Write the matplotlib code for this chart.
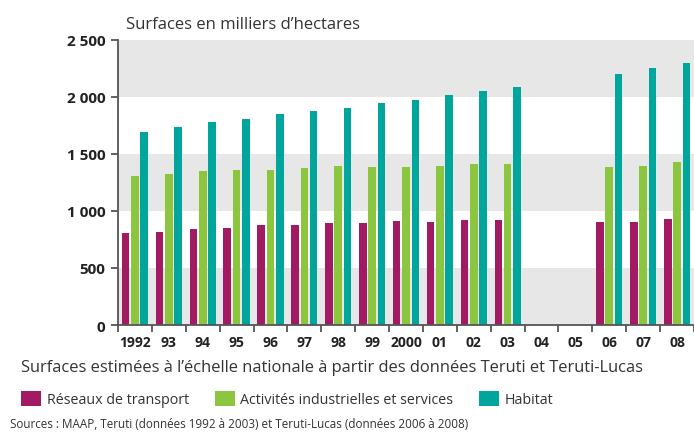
import numpy as np
import matplotlib.pyplot as plt
from matplotlib.patches import Patch

plt.rcParams['font.family'] = ['Open Sans', 'DejaVu Sans']

years = ['1992', '93', '94', '95', '96', '97', '98', '99', '2000', '01',
         '02', '03', '04', '05', '06', '07', '08']
transport = [809, 818, 845, 847, 874, 874, 898, 891, 912, 900, 924, 918,
             np.nan, np.nan, 906, 906, 927]
activites = [1311, 1325, 1349, 1358, 1361, 1376, 1393, 1387, 1387, 1393,
             1414, 1411, np.nan, np.nan, 1384, 1396, 1428]
habitat = [1693, 1734, 1781, 1808, 1852, 1876, 1902, 1949, 1975, 2017,
           2057, 2090, np.nan, np.nan, 2198, 2257, 2299]
series_names = ['Réseaux de transport', 'Activités industrielles et services', 'Habitat']
colors = ['#a21a62', '#8cc63e', '#00a69c']
yticks = [0, 500, 1000, 1500, 2000, 2500]
ytick_labels = ['0', '500', '1 000', '1 500', '2 000', '2 500']

fig = plt.figure(figsize=(6.94, 4.35), dpi=100)
ax = fig.add_axes([118 / 694, 1 - 326 / 435, 1 - 118 / 694, (326 - 41) / 435])

x = np.arange(len(years))
ax.set_xlim(-0.5, len(years) - 0.5)
ax.set_ylim(0, 2500)

# grey bands
for lo in [0, 1000, 2000]:
    ax.axhspan(lo, lo + 500, color='#e7e7e8', lw=0, zorder=0)

w = 0.225
step = 0.275
for i, (vals, c) in enumerate(zip([transport, activites, habitat], colors)):
    ax.bar(x + (i - 1) * step, vals, width=w, color=c, zorder=2)

for s in ['top', 'right']:
    ax.spines[s].set_visible(False)
for s in ['left', 'bottom']:
    ax.spines[s].set_color('#555555')
    ax.spines[s].set_linewidth(1.3)

ax.set_yticks(yticks)
ax.set_yticklabels(ytick_labels, fontsize=11, fontweight='bold', color='#222222')
ax.tick_params(axis='y', length=5, width=1.3, color='#555555', pad=4)

ax.set_xticks(x)
ax.set_xticklabels(years, fontsize=10, fontweight='bold', color='#222222')
ax.set_xticks(np.arange(len(years) + 1) - 0.5, minor=True)
ax.tick_params(axis='x', which='major', length=0, pad=7)
ax.tick_params(axis='x', which='minor', length=5, width=1.3, color='#555555')

fig.text(126 / 694, 1 - 25 / 435, 'Surfaces en milliers d\u2019hectares',
         fontsize=12, color='#333333', va='center', ha='left')
fig.text(21 / 694, 1 - 368 / 435,
         'Surfaces estimées à l\u2019échelle nationale à partir des données Teruti et Teruti-Lucas',
         fontsize=11.9, color='#333333', va='center', ha='left')

handles = [Patch(facecolor=c, edgecolor='none') for c in colors]
fig.legend(handles, series_names, loc='center left',
           bbox_to_anchor=(21 / 694, 1 - 400 / 435), ncol=3, frameon=False,
           fontsize=10.3, handlelength=1.4, handleheight=1.25, handletextpad=0.4,
           columnspacing=1.8, borderpad=0, borderaxespad=0, labelcolor='#333333')

fig.text(10 / 694, 1 - 425 / 435,
         'Sources : MAAP, Teruti (données 1992 à 2003) et Teruti-Lucas (données 2006 à 2008)',
         fontsize=8.4, color='#333333', va='center', ha='left')

fig.savefig('out.png', dpi=100)
